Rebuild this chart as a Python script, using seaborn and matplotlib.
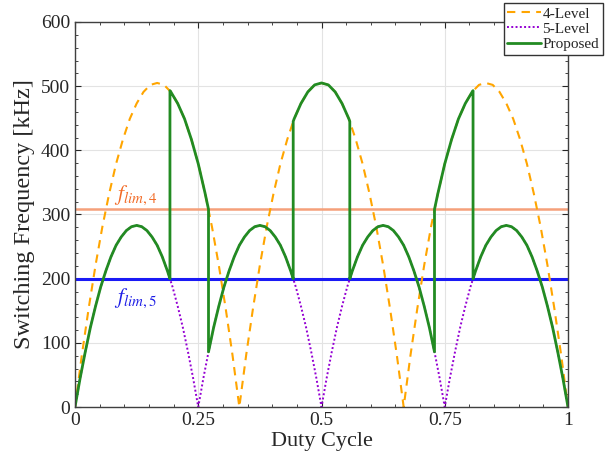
import matplotlib
matplotlib.use("Agg")
import matplotlib.pyplot as plt
from matplotlib.ticker import MultipleLocator
import seaborn as sns

# 4-level converter: one arc read every 1/72 of duty cycle, three identical arcs
arc_4 = [0, 81, 154, 221, 281, 333, 379, 417, 449, 473, 491, 502, 505,
         502, 491, 473, 449, 417, 379, 333, 281, 221, 154, 81, 0]
duty_4 = [k / 72 for k in range(73)]
fsw_4 = arc_4 + arc_4[1:] + arc_4[1:]

# 5-level converter: one arc read every 1/96 of duty cycle, four identical arcs
arc_5 = [0, 45, 86, 124, 157, 187, 212, 234, 252, 265, 275, 281, 283,
         281, 275, 265, 252, 234, 212, 187, 157, 124, 86, 45, 0]
duty_5 = [k / 96 for k in range(97)]
fsw_5 = arc_5 + arc_5[1:] + arc_5[1:] + arc_5[1:]

# proposed: switches between the two, vertical jumps at the limits
duty_p = ([k / 96 for k in range(19)] + [0.1926]
          + [0.1926] + [k / 72 for k in range(14, 20)] + [0.2708]
          + [0.2708] + [k / 96 for k in range(27, 43)] + [0.4426]
          + [0.4426] + [k / 72 for k in range(32, 41)] + [0.5574]
          + [0.5574] + [k / 96 for k in range(54, 70)] + [0.7292]
          + [0.7292] + [k / 72 for k in range(53, 59)] + [0.8074]
          + [0.8074] + [k / 96 for k in range(78, 97)])
fsw_p = ([0, 45, 86, 124, 157, 187, 212, 234, 252, 265, 275, 281, 283,
          281, 275, 265, 252, 234, 212, 200]
         + [493, 491, 473, 449, 417, 379, 333, 308]
         + [86, 124, 157, 187, 212, 234, 252, 265, 275, 281, 283,
            281, 275, 265, 252, 234, 212, 200]
         + [445, 449, 473, 491, 502, 505, 502, 491, 473, 449, 445]
         + [200, 212, 234, 252, 265, 275, 281, 283, 281, 275, 265, 252,
            234, 212, 187, 157, 124, 86]
         + [308, 333, 379, 417, 449, 473, 491, 493]
         + [200, 212, 234, 252, 265, 275, 281, 283, 281, 275, 265, 252,
            234, 212, 187, 157, 124, 86, 45, 0])

f_lim4 = 308
f_lim5 = 200

sns.set_theme(style="ticks")
plt.rcParams["font.family"] = ["Liberation Serif", "DejaVu Serif"]
plt.rcParams["mathtext.fontset"] = "stix"

fig = plt.figure(figsize=(6.16, 4.66), dpi=100)
ax = fig.add_axes([75 / 616, 1 - 407 / 466, 493 / 616, 385 / 466])

ax.axhline(f_lim4, color="#F5A07A", lw=1.8, zorder=1)
ax.axhline(f_lim5, color="#1A1AF5", lw=2.2, zorder=1)

sns.lineplot(x=duty_4, y=fsw_4, ax=ax, color="orange", lw=1.5,
             linestyle=(0, (4, 3)), label="4-Level", sort=False, estimator=None)
sns.lineplot(x=duty_5, y=fsw_5, ax=ax, color="darkviolet", lw=1.4,
             linestyle=(0, (1, 1.2)), label="5-Level", sort=False, estimator=None)
sns.lineplot(x=duty_p, y=fsw_p, ax=ax, color="forestgreen", lw=2,
             label="Proposed", sort=False, estimator=None)

ax.text(0.08, 312, r"$f_{lim,4}$", color="#F26A25", fontsize=15.5, va="bottom")
ax.text(0.08, 188, r"$f_{lim,5}$", color="#1E1EE6", fontsize=15.5, va="top")

ax.set_xlim(0, 1)
ax.set_ylim(0, 600)
ax.set_xticks([0, 0.25, 0.5, 0.75, 1])
ax.set_xticklabels(["0", "0.25", "0.5", "0.75", "1"])
ax.xaxis.set_minor_locator(MultipleLocator(0.05))
ax.yaxis.set_minor_locator(MultipleLocator(20))
ax.tick_params(which="both", direction="in", top=True, right=True,
               labelsize=14, colors="#262626")
ax.tick_params(which="major", length=4, width=0.8)
ax.tick_params(which="minor", length=2, width=0.6)
ax.grid(True, which="major", color="#E3E3E3", lw=0.8)
ax.set_axisbelow(True)
for s in ax.spines.values():
    s.set_color("#404040")
    s.set_linewidth(1)

ax.set_xlabel("Duty Cycle", fontsize=16, color="#262626", labelpad=2)
ax.set_ylabel("Switching Frequency [kHz]", fontsize=17.5, color="#262626", labelpad=4)

leg = ax.legend(loc="upper right", bbox_to_anchor=(603 / 616, 463 / 466),
                bbox_transform=fig.transFigure, borderaxespad=0, fontsize=11,
                handlelength=2.2, handletextpad=0.1, labelspacing=0.1,
                borderpad=0.25, fancybox=False, framealpha=1, edgecolor="#333333")
leg.get_frame().set_linewidth(1)
leg.set_zorder(10)

fig.savefig("out.png", dpi=100)
